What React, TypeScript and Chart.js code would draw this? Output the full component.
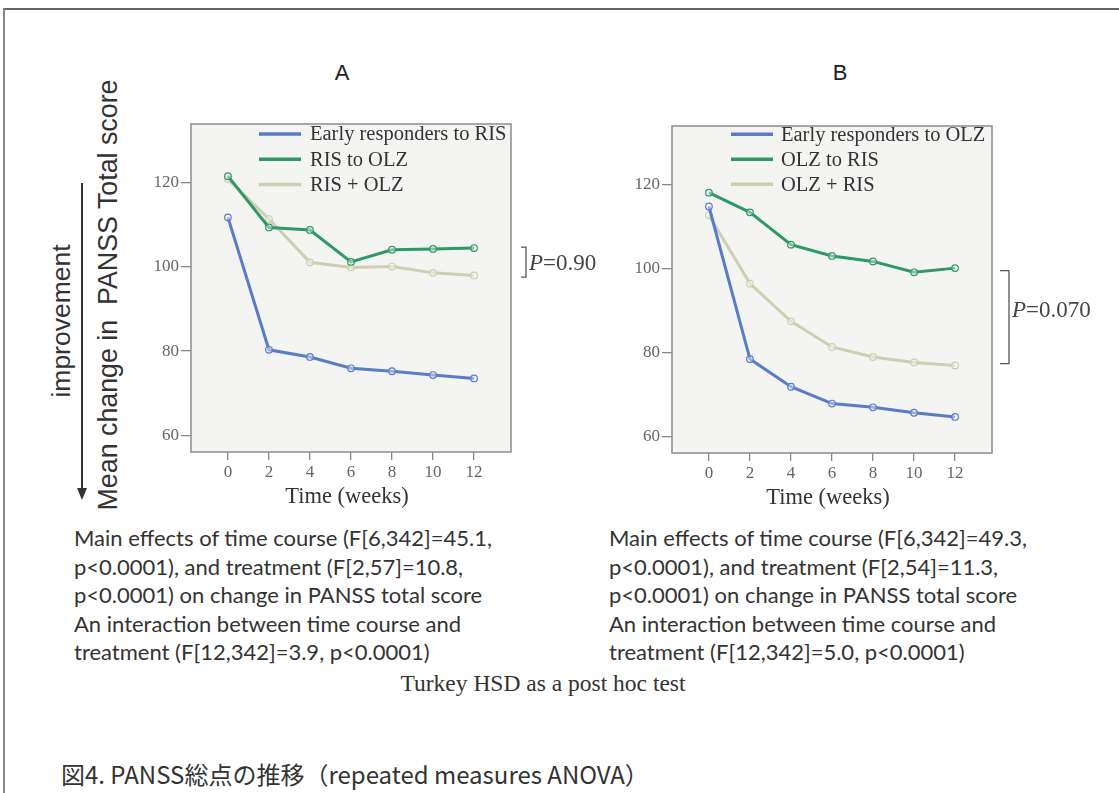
import React, { useEffect, useRef } from "react";
import { Chart, registerables } from "chart.js";
Chart.register(...registerables);

// ---- data ----
const weeks = [0, 2, 4, 6, 8, 10, 12];
const xTicks = [0, 2, 4, 6, 8, 10, 12];
const yTicks = [60, 80, 100, 120];

const namesA = ["Early responders to RIS", "RIS to OLZ", "RIS + OLZ"];
const earlyRIS = [111.8, 80.3, 78.6, 75.9, 75.2, 74.3, 73.5];
const risToOlz = [121.6, 109.4, 108.8, 101.2, 104.1, 104.3, 104.5];
const risPlusOlz = [120.9, 111.4, 101.1, 99.9, 100.1, 98.6, 98.0];

const namesB = ["Early responders to OLZ", "OLZ to RIS", "OLZ + RIS"];
const earlyOLZ = [114.8, 78.4, 71.8, 67.8, 66.9, 65.6, 64.6];
const olzToRis = [118.1, 113.4, 105.7, 103.0, 101.7, 99.1, 100.1];
const olzPlusRis = [112.7, 96.4, 87.4, 81.3, 78.9, 77.6, 76.9];

const pA = "=0.90";
const pB = "=0.070";
const bracketA = [104.7, 97.6];
const bracketB = [99.5, 77.3];

const statsA = [
  "Main effects of time course (F[6,342]=45.1,",
  "p<0.0001), and treatment (F[2,57]=10.8,",
  "p<0.0001) on change in PANSS total score",
  "An interaction between time course and",
  "treatment (F[12,342]=3.9, p<0.0001)",
];
const statsB = [
  "Main effects of time course (F[6,342]=49.3,",
  "p<0.0001), and treatment (F[2,54]=11.3,",
  "p<0.0001) on change in PANSS total score",
  "An interaction between time course and",
  "treatment (F[12,342]=5.0, p<0.0001)",
];

const colors = ["#5a7cc6", "#2f9966", "#cdcfb0"];
const SERIF = '"Liberation Serif", "Times New Roman", serif';

const deco = {
  id: "deco",
  beforeDraw(chart: any) {
    const { ctx, chartArea: a } = chart;
    ctx.save();
    ctx.fillStyle = "#f4f4f3";
    ctx.fillRect(a.left, a.top, a.right - a.left, a.bottom - a.top);
    ctx.restore();
  },
  afterDatasetsDraw(chart: any, _args: any, opts: any) {
    const { ctx, chartArea: a, scales } = chart;
    ctx.save();
    ctx.strokeStyle = "#8c8c8c";
    ctx.lineWidth = 1.5;
    ctx.strokeRect(a.left, a.top, a.right - a.left, a.bottom - a.top);
    // legend
    ctx.font = `20.5px ${SERIF}`;
    ctx.textBaseline = "middle";
    chart.data.datasets.forEach((ds: any, i: number) => {
      const y = a.top + opts.ly + i * opts.ldy;
      ctx.strokeStyle = ds.borderColor;
      ctx.lineWidth = 3.5;
      ctx.beginPath();
      ctx.moveTo(a.left + opts.lx, y);
      ctx.lineTo(a.left + opts.lx + 42, y);
      ctx.stroke();
      ctx.fillStyle = "#333";
      ctx.fillText(ds.label, a.left + opts.tx, y + 1);
    });
    // x title
    ctx.font = `22.5px ${SERIF}`;
    ctx.textAlign = "center";
    ctx.fillStyle = "#333";
    ctx.fillText("Time (weeks)", (a.left + a.right) / 2 - 4, a.bottom + 45);
    // bracket
    const ys = scales.y;
    const y1 = ys.getPixelForValue(opts.b[0]);
    const y2 = ys.getPixelForValue(opts.b[1]);
    const bx = a.right + opts.bdx;
    ctx.strokeStyle = "#555";
    ctx.lineWidth = 1.3;
    ctx.beginPath();
    ctx.moveTo(bx - opts.btl, y1);
    ctx.lineTo(bx, y1);
    ctx.lineTo(bx, y2);
    ctx.lineTo(bx - opts.btl, y2);
    ctx.stroke();
    const ty = ys.getPixelForValue(opts.pv);
    ctx.textAlign = "left";
    ctx.fillStyle = "#444";
    ctx.font = `italic 23px ${SERIF}`;
    const px = bx + 3;
    ctx.fillText("P", px, ty);
    const w = ctx.measureText("P").width;
    ctx.font = `23px ${SERIF}`;
    ctx.fillText(opts.p, px + w, ty);
    ctx.restore();
  },
};

function Panel(props: any) {
  const ref = useRef<HTMLCanvasElement>(null);
  useEffect(() => {
    const chart = new Chart(ref.current as HTMLCanvasElement, {
      type: "line",
      data: {
        datasets: props.series.map((s: number[], i: number) => ({
          label: props.names[i],
          data: weeks.map((w, j) => ({ x: w, y: s[j] })),
          borderColor: colors[i],
          borderWidth: 3,
          pointRadius: 3.3,
          pointBorderWidth: 1.2,
          pointBorderColor: colors[i],
          pointBackgroundColor: "rgba(255,255,255,0.4)",
          tension: 0,
        })),
      },
      options: {
        responsive: false,
        animation: false,
        layout: { padding: props.pad },
        plugins: {
          legend: { display: false },
          tooltip: { enabled: false },
          deco: props.deco,
        } as any,
        scales: {
          x: {
            type: "linear",
            min: -1.8,
            max: 13.8,
            afterBuildTicks: (s: any) => {
              s.ticks = xTicks.map((v) => ({ value: v }));
            },
            afterFit: (s: any) => {
              s.height = props.xh;
            },
            ticks: { font: { family: SERIF, size: 17 }, color: "#666", padding: 2, autoSkip: false, maxRotation: 0 },
            grid: { drawOnChartArea: false, drawTicks: true, tickLength: 8, color: "#888", lineWidth: 1.3 },
            border: { display: false },
          },
          y: {
            min: 56,
            max: 134,
            afterBuildTicks: (s: any) => {
              s.ticks = yTicks.map((v) => ({ value: v }));
            },
            afterFit: (s: any) => {
              s.width = props.yw;
            },
            ticks: { font: { family: SERIF, size: 17 }, color: "#666", padding: 2, autoSkip: false },
            grid: { drawOnChartArea: false, drawTicks: true, tickLength: 10, color: "#888", lineWidth: 1.3 },
            border: { display: false },
          },
        },
      },
      plugins: [deco as any],
    });
    return () => chart.destroy();
  }, []);
  return (
    <canvas
      ref={ref}
      width={props.w}
      height={props.h}
      style={{ position: "absolute", left: props.left, top: props.top, width: props.w, height: props.h }}
    />
  );
}

const abs = (o: any) => ({ position: "absolute" as const, ...o });

export default function App() {
  const statStyle = {
    fontFamily: 'Lato, "Open Sans", sans-serif',
    fontSize: 22,
    lineHeight: "28.6px",
    color: "#333",
    whiteSpace: "pre" as const,
  };
  return (
    <div style={abs({ left: 0, top: 0, width: 1119, height: 793, background: "#fff", overflow: "hidden" })}>
      <div style={abs({ left: 3, top: 8, width: 1116, height: 2, background: "#666" })} />
      <div style={abs({ left: 3, top: 8, width: 1.5, height: 785, background: "#888" })} />

      <div style={abs({ left: 342, top: 73, transform: "translate(-50%,-50%)", fontFamily: '"Liberation Sans Narrow", "Liberation Sans", sans-serif', fontSize: 22, color: "#222" })}>A</div>
      <div style={abs({ left: 840, top: 73, transform: "translate(-50%,-50%)", fontFamily: '"Liberation Sans Narrow", "Liberation Sans", sans-serif', fontSize: 22, color: "#222" })}>B</div>

      <div style={abs({ left: 108, top: 295, transform: "translate(-50%,-50%) rotate(-90deg)", fontFamily: '"Liberation Sans", Arial, sans-serif', fontSize: 26.8, lineHeight: 1, whiteSpace: "pre", color: "#333" })}>Mean change in  PANSS Total score</div>
      <div style={abs({ left: 61, top: 321, transform: "translate(-50%,-50%) rotate(-90deg)", fontFamily: '"Liberation Sans", Arial, sans-serif', fontSize: 26.5, lineHeight: 1, whiteSpace: "pre", color: "#333" })}>improvement</div>
      <div style={abs({ left: 81, top: 183, width: 2, height: 306, background: "#333" })} />
      <div style={abs({ left: 77, top: 488, width: 0, height: 0, borderLeft: "5px solid transparent", borderRight: "5px solid transparent", borderTop: "12px solid #333" })} />

      <Panel
        left={130} top={100} w={480} h={420}
        names={namesA} series={[earlyRIS, risToOlz, risPlusOlz]}
        pad={{ left: 0, top: 24, right: 99, bottom: 0 }} yw={61} xh={68}
        deco={{ lx: 68, ly: 10, ldy: 25.3, tx: 119, b: bracketA, bdx: 15, btl: 5, pv: 100.6, p: pA }}
      />
      <Panel
        left={610} top={100} w={500} h={420}
        names={namesB} series={[earlyOLZ, olzToRis, olzPlusRis]}
        pad={{ left: 0, top: 26, right: 118, bottom: 0 }} yw={62} xh={67}
        deco={{ lx: 59, ly: 8.3, ldy: 25, tx: 109, b: bracketB, bdx: 17, btl: 9, pv: 90, p: pB }}
      />

      <div style={abs({ left: 74, top: 524, ...statStyle })}>{statsA.join("\n")}</div>
      <div style={abs({ left: 609, top: 524, ...statStyle })}>{statsB.join("\n")}</div>

      <div style={abs({ left: 543, top: 683, transform: "translate(-50%,-50%)", fontFamily: SERIF, fontSize: 23.5, color: "#333", whiteSpace: "pre" })}>Turkey HSD as a post hoc test</div>

      <div style={abs({ left: 61, top: 773, transform: "translateY(-50%)", fontFamily: '"Noto Sans CJK JP", sans-serif', fontSize: 24, color: "#333", whiteSpace: "pre" })}>図4. PANSS総点の推移（repeated measures ANOVA）</div>
    </div>
  );
}
